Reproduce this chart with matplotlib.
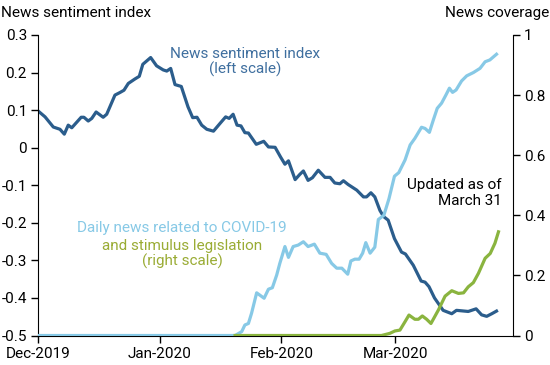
import numpy as np
import pandas as pd
import matplotlib
matplotlib.use("Agg")
import matplotlib.pyplot as plt
import matplotlib.dates as mdates

plt.rcParams['font.family'] = ['Roboto', 'DejaVu Sans']

start = pd.Timestamp("2019-12-01")

# Indice de sentimiento (eje izquierdo): dias desde 1-dic-2019 y valor
sent_day = [0, 1.8, 3.9, 5.6, 6.7, 7.7, 8.6, 11, 11.7, 12.8, 13.7, 14.8, 16.6, 17.5,
            19.6, 20.9, 21.9, 23, 24.7, 25.8, 26.7, 28.7, 30.2, 31.9, 32.8, 33.8,
            34.9, 36.5, 38.2, 39.4, 40.5, 41.7, 43, 44.7, 46.4, 47.8, 48.7, 49.7,
            50.7, 51.7, 52.7, 53.6, 55.6, 57.5, 58.7, 60.4, 61.8, 62.9, 63.8, 65.5,
            66.7, 67.6, 68.8, 69.9, 71.4, 73.1, 74.4, 75.6, 76.9, 77.8, 79, 81.2,
            82.9, 83.7, 84.8, 85.8, 87.1, 88, 89.2, 90.8, 92.6, 93.6, 95.6, 97.6,
            98.6, 99.6, 101, 103.2, 105.4, 106.6, 109.6, 111.6, 113, 114.3, 115.6, 116.8]
sent_val = [0.098, 0.082, 0.055, 0.049, 0.036, 0.06, 0.053, 0.081, 0.081, 0.071, 0.078, 0.095, 0.081, 0.089,
            0.14, 0.147, 0.153, 0.171, 0.183, 0.19, 0.222, 0.24, 0.218, 0.207, 0.204, 0.211,
            0.168, 0.163, 0.109, 0.08, 0.081, 0.06, 0.049, 0.044, 0.065, 0.082, 0.078, 0.089,
            0.06, 0.058, 0.04, 0.039, 0.009, 0.017, 0.002, 0.001, -0.025, -0.044, -0.035, -0.085,
            -0.071, -0.062, -0.087, -0.08, -0.06, -0.079, -0.079, -0.094, -0.096, -0.088, -0.098, -0.113,
            -0.131, -0.131, -0.12, -0.131, -0.167, -0.183, -0.193, -0.242, -0.278, -0.283, -0.313, -0.355,
            -0.358, -0.37, -0.40, -0.433, -0.442, -0.433, -0.436, -0.429, -0.445, -0.449, -0.442, -0.435]

# Cobertura COVID-19 (eje derecho)
covid_day = [0, 50.2, 51.9, 52.7, 53.6, 54.4, 55.7, 57.6, 58.7, 59.7, 60.8, 61.6, 62.9, 63.8,
             65, 66.3, 67.6, 68.8, 70.4, 71.8, 73.4, 74.8, 76.1, 77.4, 78.9, 79.7, 80.7, 81.8,
             82.7, 83.5, 84.6, 85.8, 86.7, 88.1, 89.4, 90.8, 91.9, 93.5, 94.8, 96, 97.7, 98.6,
             99.7, 100.7, 101.7, 102.8, 103.9, 104.8, 105.6, 106.5, 107.9, 109.2, 110.9, 112.6,
             113.9, 115.1, 116.8]
covid_val = [0, 0, 0.013, 0.035, 0.04, 0.074, 0.142, 0.124, 0.154, 0.159, 0.201, 0.24, 0.296, 0.26,
             0.296, 0.301, 0.312, 0.296, 0.304, 0.274, 0.27, 0.24, 0.224, 0.224, 0.204, 0.248, 0.254, 0.254,
             0.274, 0.309, 0.274, 0.294, 0.386, 0.40, 0.455, 0.53, 0.542, 0.584, 0.634, 0.656, 0.693, 0.689,
             0.676, 0.717, 0.756, 0.773, 0.8, 0.823, 0.809, 0.817, 0.847, 0.864, 0.875, 0.889,
             0.911, 0.917, 0.936]

# Cobertura de estimulos (eje derecho)
stim_day = [50.2, 87.5, 89.6, 90.9, 92.2, 93.5, 94.5, 96, 96.9, 97.9, 99, 100.1, 102, 103.7,
            105.4, 107.1, 108.4, 109.6, 110.9, 112.2, 113.9, 115.2, 116.4, 117.3]
stim_val = [0, 0, 0.007, 0.015, 0.018, 0.046, 0.068, 0.054, 0.054, 0.065, 0.054, 0.04, 0.085, 0.131,
            0.149, 0.14, 0.142, 0.162, 0.176, 0.207, 0.257, 0.273, 0.307, 0.345]

left_ticks = [0.3, 0.2, 0.1, 0, -0.1, -0.2, -0.3, -0.4, -0.5]
left_labels = ["0.3", "0.2", "0.1", "0", "-0.1", "-0.2", "-0.3", "-0.4", "-0.5"]
right_ticks = [0, 0.2, 0.4, 0.6, 0.8, 1]
right_labels = ["0", "0.2", "0.4", "0.6", "0.8", "1"]

dark_blue = "#2b5d8c"
light_blue = "#87c9e6"
green = "#8ab43f"
fs = 11


def to_dates(days):
    return start + pd.to_timedelta(np.array(days), unit="D")


fig = plt.figure(figsize=(5.5, 3.65), dpi=100)
ax = fig.add_axes([38 / 550, 1 - 335.5 / 365, (513 - 38) / 550, 300.5 / 365])
ax2 = ax.twinx()

ax.plot(to_dates(sent_day), sent_val, color=dark_blue, lw=2.3, solid_joinstyle="round")
ax2.plot(to_dates(covid_day), covid_val, color=light_blue, lw=2.3, solid_joinstyle="round")
ax2.plot(to_dates(stim_day), stim_val, color=green, lw=2.3, solid_joinstyle="round")

ax.set_xlim(start, pd.Timestamp("2020-03-31"))
ax.set_ylim(-0.5, 0.3)
ax2.set_ylim(0, 1)

ax.set_yticks(left_ticks)
ax.set_yticklabels(left_labels)
ax2.set_yticks(right_ticks)
ax2.set_yticklabels(right_labels)

ax.xaxis.set_major_locator(mdates.MonthLocator())
ax.xaxis.set_major_formatter(mdates.DateFormatter("%b-%Y"))

for a in (ax, ax2):
    a.spines["top"].set_visible(False)
    a.tick_params(labelsize=fs, length=5, width=1, colors="black")
ax2.spines["left"].set_visible(False)
ax.spines["right"].set_visible(False)
ax2.spines["bottom"].set_visible(False)
ax.tick_params(axis="y", pad=3)
ax2.tick_params(axis="y", pad=3)
ax.tick_params(axis="x", pad=3)
for lab in ax.get_xticklabels():
    lab.set_horizontalalignment("center")

# titulos de ejes
fig.text(1 / 550, 1 - 13 / 365, "News sentiment index", fontsize=fs, ha="left", va="center")
fig.text(549 / 550, 1 - 13 / 365, "News coverage", fontsize=fs, ha="right", va="center")

# anotaciones
fig.text(245 / 550, 1 - 62 / 365, "News sentiment index\n(left scale)", fontsize=fs,
         ha="center", va="center", color="#3f6f9f", linespacing=1.1)
fig.text(182 / 550, 1 - 228 / 365, "Daily news related to COVID-19", fontsize=fs,
         ha="center", va="center", color=light_blue)
fig.text(182 / 550, 1 - 254 / 365, "and stimulus legislation\n(right scale)", fontsize=fs,
         ha="center", va="center", color="#9aac35", linespacing=1.05)
fig.text(502 / 550, 1 - 193 / 365, "Updated as of\nMarch 31", fontsize=fs,
         ha="right", va="center", color="black", linespacing=1.1)

plt.savefig("out.png", dpi=100)
